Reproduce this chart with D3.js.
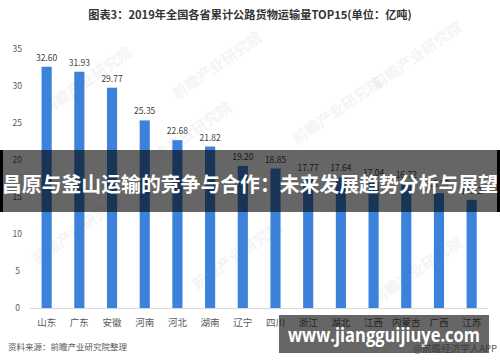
<!DOCTYPE html>
<html><head><meta charset="utf-8">
<script src="https://cdn.jsdelivr.net/npm/d3@7"></script>
<style>html,body{margin:0;padding:0;background:#fff;}svg{display:block;}</style>
</head><body>
<svg id="c" width="500" height="362"></svg>
<script>
const categories = ["山东","广东","安徽","河南","河北","湖南","辽宁","四川","浙江","湖北","江西","内蒙古","广西","江苏"];
const values = [32.60,31.93,29.77,25.35,22.68,21.82,19.20,18.85,17.77,17.64,17.04,16.72,15.52,14.62];
const yTicks = [0,5,10,15,20,25,30,35];
const titleText = "图表3：2019年全国各省累计公路货物运输量TOP15(单位：亿吨)";
const sourceText = "资料来源：前瞻产业研究院整理";
const bannerText = "昌原与釜山运输的竞争与合作：未来发展趋势分析与展望";
const siteText = "www.jiangguijiuye.com";
const appText = "@前瞻经济学人APP";
const wmText = "前瞻产业研究院";

const svg = d3.select("#c");
const font = "'Noto Sans CJK SC','Noto Sans',sans-serif";
const x = d3.scaleBand().domain(categories).range([30.3, 488]).paddingInner(0.69).paddingOuter(0.345);
const y = d3.scaleLinear().domain([0,35]).range([308,49]);

// faint watermarks
const wms = [[90,85],[220,70],[340,115],[80,235],[240,260],[420,275],[190,140],[420,60]];
svg.append("g").selectAll("text").data(wms).join("text")
  .attr("transform", d=>`translate(${d[0]},${d[1]}) rotate(-35)`)
  .attr("text-anchor","middle").attr("font-family",font).attr("font-weight","bold")
  .attr("font-size",15).attr("fill","#000").attr("opacity",0.04).text(wmText);

svg.append("text").attr("x",250).attr("y",19).attr("text-anchor","middle")
  .attr("font-family",font).attr("font-weight","bold").attr("font-size",11.2).attr("fill","#333")
  .text(titleText);

// y axis labels
svg.append("g").selectAll("text").data(yTicks).join("text")
  .attr("x",d=> d<10?20:22).attr("y",d=>y(d)+3).attr("text-anchor","end")
  .attr("font-family",font).attr("font-size",8.5).attr("fill","#595959").text(d=>d);

// baseline
svg.append("line").attr("x1",30).attr("x2",488).attr("y1",y(0)+0.5).attr("y2",y(0)+0.5)
  .attr("stroke","#d9d9d9").attr("stroke-width",1);

// bars
svg.append("g").selectAll("rect").data(values).join("rect")
  .attr("x",(d,i)=>x(categories[i])).attr("width",x.bandwidth())
  .attr("y",d=>y(d)).attr("height",d=>y(0)-y(d)).attr("fill","#3c82da");

// value labels
svg.append("g").selectAll("text").data(values).join("text")
  .attr("x",(d,i)=>x(categories[i])+x.bandwidth()/2).attr("y",d=>y(d)-6)
  .attr("text-anchor","middle").attr("font-family",font).attr("font-size",8.5).attr("fill","#404040")
  .text(d=>d.toFixed(2));

// category labels
svg.append("g").selectAll("text").data(categories).join("text")
  .attr("x",d=>x(d)+x.bandwidth()/2).attr("y",326).attr("text-anchor","middle")
  .attr("font-family",font).attr("font-size",9.5).attr("fill","#595959").text(d=>d);

svg.append("text").attr("x",8).attr("y",350).attr("font-family",font).attr("font-size",8.5)
  .attr("fill","#595959").text(sourceText);

// banner overlay
svg.append("rect").attr("x",0).attr("y",150).attr("width",500).attr("height",62).attr("fill","#000").attr("opacity",0.6);
svg.append("rect").attr("x",0).attr("y",150).attr("width",3).attr("height",62).attr("fill","#000");
svg.append("rect").attr("x",497).attr("y",150).attr("width",3).attr("height",62).attr("fill","#000");
svg.append("text").attr("x",250).attr("y",192).attr("text-anchor","middle")
  .attr("font-family",font).attr("font-weight","bold").attr("font-size",20.8).attr("fill","#fff")
  .attr("textLength",496).attr("lengthAdjust","spacingAndGlyphs").text(bannerText);

// bottom site watermark
svg.append("rect").attr("x",279).attr("y",315).attr("width",210).attr("height",38).attr("fill","#000").attr("opacity",0.6);
svg.append("text").attr("x",384).attr("y",342).attr("text-anchor","middle")
  .attr("font-family","'Open Sans',sans-serif").attr("font-weight","bold").attr("font-size",19).attr("fill","#fff")
  .attr("textLength",192).attr("lengthAdjust","spacingAndGlyphs").text(siteText);
svg.append("text").attr("x",497).attr("y",352).attr("text-anchor","end")
  .attr("font-family",font).attr("font-size",9.5).attr("fill","#333").attr("opacity",0.8).text(appText);
</script>
</body></html>
